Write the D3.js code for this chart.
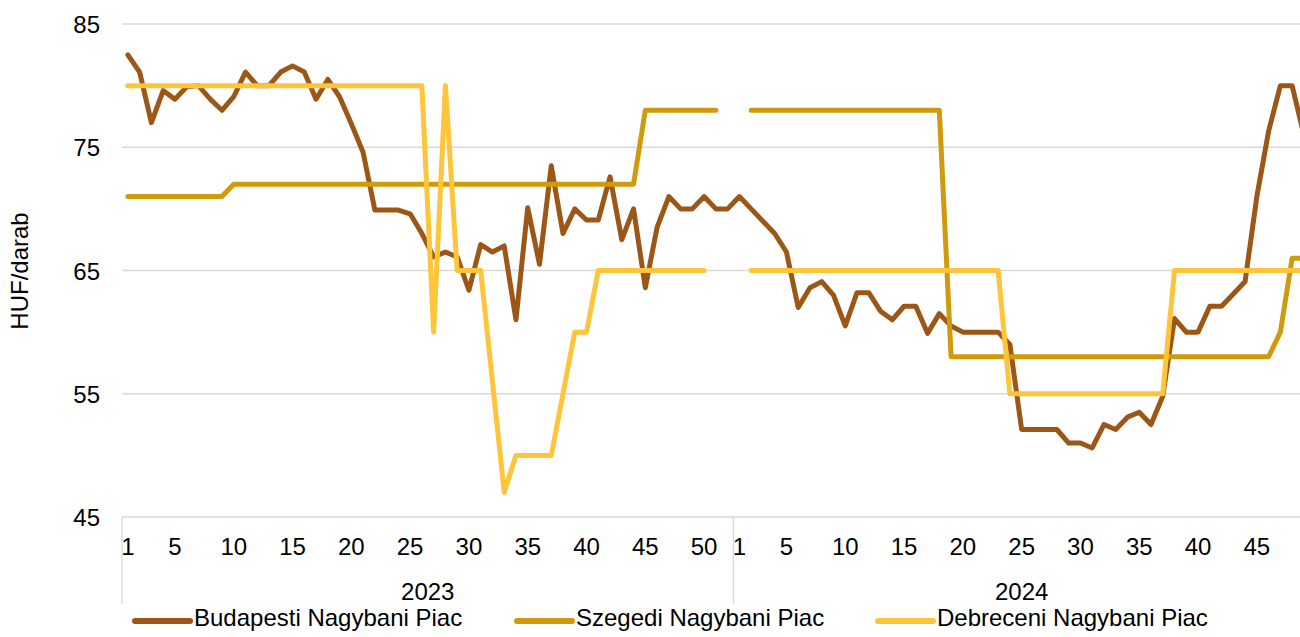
<!DOCTYPE html>
<html lang="hu">
<head>
  <meta charset="UTF-8">
  <title>HUF/darab – nagybani piacok</title>
  <script src="https://d3js.org/d3.v7.min.js"></script>
  <style>
    body { margin: 0; background: #fff; }
    svg { display: block; font-family: "Liberation Sans", Arial, sans-serif; }
    .grid line { stroke: #d9d9d9; stroke-width: 1.3px; }
    .axis text { font-size: 24px; fill: #000; }
    .series { fill: none; stroke-width: 5px; stroke-linejoin: round; stroke-linecap: round; }
    .legend text { font-size: 24px; fill: #000; }
  </style>
</head>
<body>

<svg width="1300" height="637"></svg>

<script>
// weeks: 2023 has 52, 2024 shown up to week 49 (cut off at the right edge)
const years = ["2023", "2024"];
const weeksPerYear = [52, 49];
const tickWeeks2023 = [1, 5, 10, 15, 20, 25, 30, 35, 40, 45, 50];
const tickWeeks2024 = [1, 5, 10, 15, 20, 25, 30, 35, 40, 45];
const yTicks = [45, 55, 65, 75, 85];

const seriesNames = ["Budapesti Nagybani Piac", "Szegedi Nagybani Piac", "Debreceni Nagybani Piac"];
const seriesColors = ["#9c5716", "#d19a0d", "#fec43a"];

const budapest2023 = [82.5, 81.1, 77.0, 79.6, 78.9, 79.9, 80.0, 78.9, 78.0, 79.1,
  81.1, 80.0, 80.0, 81.1, 81.6, 81.1, 78.9, 80.5, 79.1, 76.9,
  74.6, 69.9, 69.9, 69.9, 69.6, 68.0, 66.1, 66.5, 66.1, 63.4,
  67.1, 66.5, 67.0, 61.0, 70.1, 65.5, 73.5, 68.0, 70.0, 69.1,
  69.1, 72.6, 67.5, 70.0, 63.6, 68.5, 71.0, 70.0, 70.0, 71.0,
  70.0, 70.0];
const budapest2024 = [71.0, 70.0, 69.0, 68.0, 66.5, 62.0, 63.6, 64.1, 63.0, 60.5,
  63.2, 63.2, 61.7, 61.0, 62.1, 62.1, 59.9, 61.5, 60.5, 60.0,
  60.0, 60.0, 60.0, 59.0, 52.1, 52.1, 52.1, 52.1, 51.0, 51.0,
  50.6, 52.5, 52.1, 53.1, 53.5, 52.5, 54.8, 61.1, 60.0, 60.0,
  62.1, 62.1, 63.1, 64.1, 71.0, 76.3, 80.0, 80.0, 76.0];

const szeged2023 = [71, 71, 71, 71, 71, 71, 71, 71, 71, 72,
  72, 72, 72, 72, 72, 72, 72, 72, 72, 72,
  72, 72, 72, 72, 72, 72, 72, 72, 72, 72,
  72, 72, 72, 72, 72, 72, 72, 72, 72, 72,
  72, 72, 72, 72, 78, 78, 78, 78, 78, 78,
  78, null];
const szeged2024 = [null, 78, 78, 78, 78, 78, 78, 78, 78, 78,
  78, 78, 78, 78, 78, 78, 78, 78, 58, 58,
  58, 58, 58, 58, 58, 58, 58, 58, 58, 58,
  58, 58, 58, 58, 58, 58, 58, 58, 58, 58,
  58, 58, 58, 58, 58, 58, 60, 66, 66];

const debrecen2023 = [80, 80, 80, 80, 80, 80, 80, 80, 80, 80,
  80, 80, 80, 80, 80, 80, 80, 80, 80, 80,
  80, 80, 80, 80, 80, 80, 60, 80, 65, 65,
  65, 56, 47, 50, 50, 50, 50, 55, 60, 60,
  65, 65, 65, 65, 65, 65, 65, 65, 65, 65,
  null, null];
const debrecen2024 = [null, 65, 65, 65, 65, 65, 65, 65, 65, 65,
  65, 65, 65, 65, 65, 65, 65, 65, 65, 65,
  65, 65, 65, 55, 55, 55, 55, 55, 55, 55,
  55, 55, 55, 55, 55, 55, 55, 65, 65, 65,
  65, 65, 65, 65, 65, 65, 65, 65, 65];

const seriesData = [
  budapest2023.concat(budapest2024),
  szeged2023.concat(szeged2024),
  debrecen2023.concat(debrecen2024)
];

const svg = d3.select("svg");
const plotLeft = 122, plotBottom = 517, plotTop = 24, plotRight = 1300;
const step = 11.76;
const nCats = weeksPerYear[0] + weeksPerYear[1];

const x = d3.scaleBand()
  .domain(d3.range(nCats))
  .range([plotLeft, plotLeft + nCats * step])
  .paddingInner(0);
const bw = x.bandwidth();
const y = d3.scaleLinear().domain([45, 85]).range([plotBottom, plotTop]);

// horizontal gridlines
svg.append("g").attr("class", "grid")
  .selectAll("line")
  .data(yTicks)
  .enter().append("line")
  .attr("x1", plotLeft).attr("x2", plotRight)
  .attr("y1", d => y(d)).attr("y2", d => y(d));

// year separators (left axis + between years)
const sepX = [plotLeft, x(weeksPerYear[0])];
svg.append("g").attr("class", "grid")
  .selectAll("line")
  .data(sepX)
  .enter().append("line")
  .attr("x1", d => d).attr("x2", d => d)
  .attr("y1", plotBottom).attr("y2", 604);

// y axis labels
const yAxis = svg.append("g")
  .attr("class", "axis")
  .attr("transform", `translate(${plotLeft},0)`)
  .call(d3.axisLeft(y).tickValues(yTicks).tickSize(0).tickPadding(22));
yAxis.select(".domain").remove();
yAxis.selectAll("text").attr("dy", "0.36em");

svg.append("text")
  .attr("transform", "translate(28,271) rotate(-90)")
  .attr("text-anchor", "middle")
  .style("font-size", "24px")
  .text("HUF/darab");

// x axis week labels
const tickIdx = tickWeeks2023.map(w => w - 1)
  .concat(tickWeeks2024.map(w => weeksPerYear[0] + w - 1));
const xAxis = svg.append("g")
  .attr("class", "axis")
  .attr("transform", `translate(0,${plotBottom})`)
  .call(d3.axisBottom(x)
    .tickValues(tickIdx)
    .tickSize(0)
    .tickPadding(21)
    .tickFormat(i => i < weeksPerYear[0] ? i + 1 : i - weeksPerYear[0] + 1));
xAxis.select(".domain").remove();

// year labels
const yearStart = [0, weeksPerYear[0]];
svg.append("g").attr("class", "axis")
  .selectAll("text")
  .data(years)
  .enter().append("text")
  .attr("x", (d, i) => (x(yearStart[i]) + x(yearStart[i] + weeksPerYear[i] - 1) + bw) / 2)
  .attr("y", 600)
  .attr("text-anchor", "middle")
  .text(d => d);

// lines
const line = d3.line()
  .defined(d => d != null)
  .x((d, i) => x(i) + bw / 2)
  .y(d => y(d));

svg.append("g")
  .selectAll("path")
  .data(seriesData)
  .enter().append("path")
  .attr("class", "series")
  .attr("stroke", (d, i) => seriesColors[i])
  .attr("d", line);

// legend
const legendX = [135, 517, 878];
const lg = svg.append("g").attr("class", "legend")
  .selectAll("g")
  .data(seriesNames)
  .enter().append("g")
  .attr("transform", (d, i) => `translate(${legendX[i]},621)`);
lg.append("line")
  .attr("x1", 0).attr("x2", 55)
  .attr("stroke", (d, i) => seriesColors[i])
  .attr("stroke-width", 6)
  .attr("stroke-linecap", "round");
lg.append("text")
  .attr("x", 59)
  .attr("y", 5)
  .text(d => d);
</script>

</body>
</html>
